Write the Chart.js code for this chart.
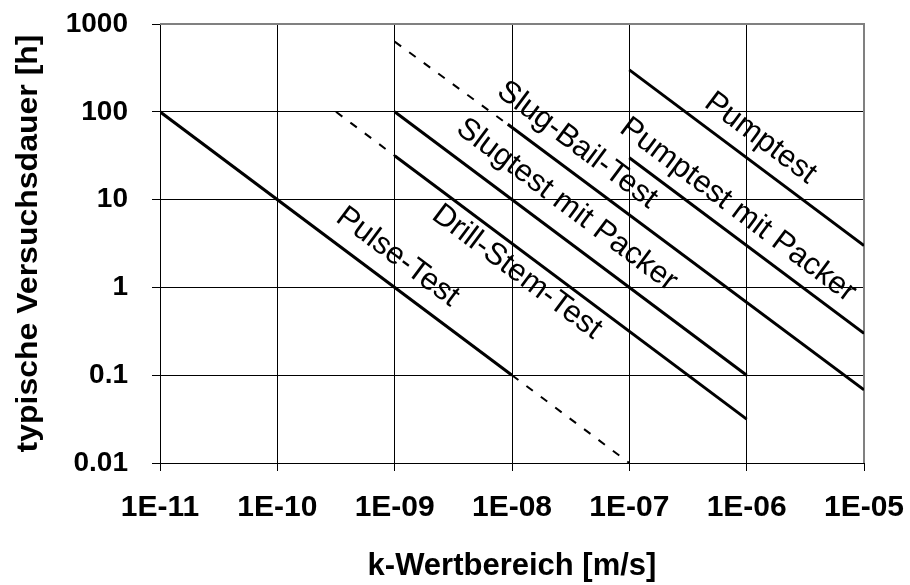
<!DOCTYPE html>
<html>
<head>
<meta charset="utf-8">
<script src="https://cdn.jsdelivr.net/npm/chart.js@4/dist/chart.umd.min.js"></script>
<style>
  html, body { margin: 0; padding: 0; background: #fff; }
  #wrap { width: 910px; height: 585px; }
</style>
</head>
<body>
<div id="wrap"><canvas id="chart" width="910" height="585"></canvas></div>
<script>
// axis ticks
const xTickValues = [1e-11, 1e-10, 1e-9, 1e-8, 1e-7, 1e-6, 1e-5];
const xTickLabels = ["1E-11", "1E-10", "1E-09", "1E-08", "1E-07", "1E-06", "1E-05"];
const yTickValues = [0.01, 0.1, 1, 10, 100, 1000];
const yTickLabels = ["0.01", "0.1", "1", "10", "100", "1000"];
const xTitle = "k-Wertbereich [m/s]";
const yTitle = "typische Versuchsdauer [h]";

// test ranges (k in m/s, duration in h)
const pulseX = [1e-11, 1e-8];
const pulseY = [100, 0.1];
const pulseDashX = [1e-8, 1e-7];
const pulseDashY = [0.1, 0.01];

const drillDashX = [3.16e-10, 1e-9];
const drillDashY = [100, 31.6];
const drillX = [1e-9, 1e-6];
const drillY = [31.6, 0.0316];

const slugPackerX = [1e-9, 1e-6];
const slugPackerY = [100, 0.1];

const slugBailDashX = [1e-9, 9.2e-9];
const slugBailDashY = [630, 72];
const slugBailX = [9.2e-9, 1e-5];
const slugBailY = [72, 0.068];

const pumpPackerX = [1e-7, 1e-5];
const pumpPackerY = [30, 0.3];

const pumpX = [1e-7, 1e-5];
const pumpY = [300, 3];

// labels written along the lines
const labelTexts = ["Pulse-Test", "Drill-Stem-Test", "Slugtest mit Packer", "Slug-Bail-Test", "Pumptest mit Packer", "Pumptest"];
const labelX = [1.06e-9, 1.1e-8, 2.93e-8, 3.6e-8, 8.4e-7, 1.31e-6];
const labelY = [2.22, 1.5, 8.7, 41.9, 7.6, 50];

const FONT = "'Liberation Sans', Arial, sans-serif";

function pts(xs, ys) {
  return xs.map((x, i) => ({ x: x, y: ys[i] }));
}

function seg(xs, ys, dashed) {
  return {
    data: pts(xs, ys),
    borderColor: "#000",
    borderWidth: dashed ? 2 : 3,
    borderDash: dashed ? [8, 10] : [],
    borderCapStyle: "butt",
    pointRadius: 0,
    fill: false
  };
}

const lineLabels = {
  id: "lineLabels",
  afterDatasetsDraw(chart) {
    const c = chart.ctx;
    const xs = chart.scales.x, ys = chart.scales.y;
    // slope of a -1 decade/decade line in pixels
    const ang = Math.atan2(ys.getPixelForValue(1) - ys.getPixelForValue(10),
                           xs.getPixelForValue(1e-8) - xs.getPixelForValue(1e-9));
    c.save();
    c.fillStyle = "#000";
    c.font = "31px " + FONT;
    c.textAlign = "center";
    c.textBaseline = "middle";
    labelTexts.forEach((t, i) => {
      c.save();
      c.translate(xs.getPixelForValue(labelX[i]), ys.getPixelForValue(labelY[i]));
      c.rotate(ang);
      c.fillText(t, 0, 0);
      c.restore();
    });
    c.restore();
  }
};

// plot frame (top/right) and the rotated y title, which is stretched along its length
const frame = {
  id: "frame",
  beforeDatasetsDraw(chart) {
    const a = chart.chartArea, c = chart.ctx;
    c.save();
    c.strokeStyle = "#808080";
    c.lineWidth = 2;
    c.beginPath();
    c.moveTo(a.left, a.top);
    c.lineTo(a.right, a.top);
    c.lineTo(a.right, a.bottom);
    c.stroke();
    c.restore();
  },
  afterDraw(chart) {
    const a = chart.chartArea, c = chart.ctx;
    c.save();
    c.fillStyle = "#000";
    c.font = "bold 29px " + FONT;
    c.textAlign = "center";
    c.textBaseline = "middle";
    c.translate(29, (a.top + a.bottom) / 2);
    c.rotate(-Math.PI / 2);
    const w = c.measureText(yTitle).width;
    c.scale(418 / w, 1);
    c.fillText(yTitle, 0, 0);
    c.restore();
  }
};

new Chart(document.getElementById("chart").getContext("2d"), {
  type: "line",
  data: {
    datasets: [
      seg(pulseX, pulseY, false),
      seg(pulseDashX, pulseDashY, true),
      seg(drillDashX, drillDashY, true),
      seg(drillX, drillY, false),
      seg(slugPackerX, slugPackerY, false),
      seg(slugBailDashX, slugBailDashY, true),
      seg(slugBailX, slugBailY, false),
      seg(pumpPackerX, pumpPackerY, false),
      seg(pumpX, pumpY, false)
    ]
  },
  options: {
    responsive: false,
    animation: false,
    layout: { padding: { top: 24, right: 46, left: 0, bottom: 0 } },
    plugins: { legend: { display: false }, tooltip: { enabled: false } },
    scales: {
      x: {
        type: "logarithmic",
        min: 1e-11,
        max: 1e-5,
        afterBuildTicks(s) { s.ticks = xTickValues.map(v => ({ value: v })); },
        afterFit(s) { s.height = 122; s.paddingLeft = 0; s.paddingRight = 0; },
        ticks: {
          color: "#000",
          font: { family: FONT, size: 30, weight: "bold" },
          padding: 19,
          maxRotation: 0,
          autoSkip: false,
          callback: (v, i) => xTickLabels[i]
        },
        grid: { color: "#000", lineWidth: 1, tickLength: 8 },
        border: { color: "#000", width: 1 },
        title: {
          display: true,
          text: xTitle,
          color: "#000",
          font: { family: FONT, size: 31, weight: "bold" },
          padding: { top: 0, bottom: 0 }
        }
      },
      y: {
        type: "logarithmic",
        min: 0.01,
        max: 1000,
        afterBuildTicks(s) { s.ticks = yTickValues.map(v => ({ value: v })); },
        afterFit(s) { s.width = 160; s.paddingTop = 0; s.paddingBottom = 0; },
        ticks: {
          color: "#000",
          font: { family: FONT, size: 28, weight: "bold" },
          padding: 24,
          autoSkip: false,
          callback: (v, i) => yTickLabels[i]
        },
        grid: { color: "#000", lineWidth: 1, tickLength: 8 },
        border: { color: "#000", width: 1 }
      }
    }
  },
  plugins: [frame, lineLabels]
});
</script>
</body>
</html>
